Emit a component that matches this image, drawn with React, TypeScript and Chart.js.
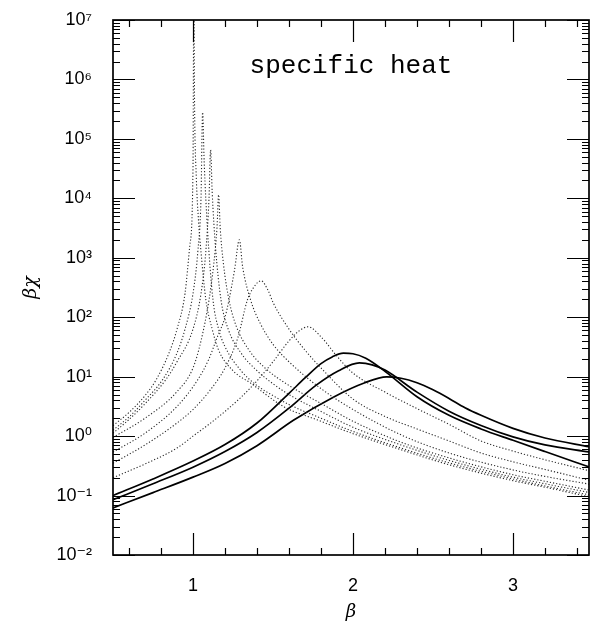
import React, { useEffect, useRef } from 'react';
import { Chart, registerables } from 'chart.js';

Chart.register(...registerables);

// axis ranges and labels
const xMin = 0.5;
const xMax = 3.475;
const yMin = 0.01;
const yMax = 1e7;
const xLabelTicks = [1, 2, 3];
const xAxisTitle = 'β';
const yAxisTitle = 'βχ';
const panelTitle = 'specific heat';

// solid curves: [beta, beta*chi]
const solid1: [number, number][] = [
  [0.5, 0.1], [0.75, 0.19], [1.0, 0.38], [1.2, 0.72], [1.4, 1.66], [1.6, 5.25], [1.7, 9.5],
  [1.8, 16.6], [1.87, 21.5], [1.94, 24.8], [2.0, 24.3], [2.08, 20.4], [2.2, 12.3], [2.4, 4.6],
  [2.6, 2.24], [2.8, 1.32], [3.0, 0.85], [3.2, 0.55], [3.48, 0.3],
];
const solid2: [number, number][] = [
  [0.5, 0.085], [0.75, 0.158], [1.0, 0.3], [1.2, 0.55], [1.4, 1.15], [1.6, 2.95], [1.77, 7.2],
  [1.91, 12.6], [2.04, 17], [2.12, 15.8], [2.2, 12.9], [2.4, 5.5], [2.6, 2.63], [2.8, 1.51],
  [3.0, 0.97], [3.2, 0.71], [3.48, 0.54],
];
const solid3: [number, number][] = [
  [0.5, 0.062], [0.75, 0.112], [1.0, 0.204], [1.2, 0.347], [1.4, 0.69], [1.63, 1.86],
  [1.88, 4.57], [2.07, 7.83], [2.21, 9.9], [2.3, 9.4], [2.4, 7.9], [2.5, 6.0], [2.6, 4.3],
  [2.7, 3.0], [2.8, 2.24], [3.0, 1.35], [3.2, 0.93], [3.48, 0.66],
];

// dotted curves
const dotted1: [number, number][] = [
  [0.5, 1.5], [0.6, 2.5], [0.7, 4.8], [0.77, 8.9], [0.85, 25], [0.9, 63], [0.95, 250],
  [0.98, 1600], [1.0, 32000], [1.005, 3e7], [1.01, 3.2e5], [1.02, 25000], [1.035, 4000],
  [1.05, 1260], [1.08, 200], [1.12, 63], [1.16, 28], [1.25, 12.6], [1.36, 7.8], [1.57, 3.1],
  [1.78, 1.86], [2.0, 1.1], [2.3, 0.59], [2.6, 0.33], [3.0, 0.178], [3.2, 0.138], [3.48, 0.095],
];
const dotted2: [number, number][] = [
  [0.5, 1.26], [0.6, 2.1], [0.7, 4.0], [0.81, 8.9], [0.9, 25], [0.95, 63], [1.0, 250],
  [1.03, 1260], [1.05, 10000], [1.06, 2.8e5], [1.07, 40000], [1.09, 3200], [1.125, 195],
  [1.16, 63], [1.2, 32], [1.3, 12.6], [1.4, 7.1], [1.5, 4.8], [1.6, 3.4], [1.8, 2.0],
  [2.0, 1.2], [2.3, 0.63], [2.6, 0.355], [3.0, 0.19], [3.2, 0.145], [3.48, 0.102],
];
const dotted3: [number, number][] = [
  [0.5, 1.12], [0.6, 1.9], [0.7, 3.5], [0.83, 8.9], [0.9, 17.8], [1.0, 63], [1.05, 250],
  [1.08, 1260], [1.1, 10000], [1.11, 65000], [1.12, 12600], [1.14, 1600], [1.175, 195],
  [1.22, 63], [1.3, 25], [1.4, 12.6], [1.5, 7.6], [1.6, 5.0], [1.8, 2.6], [2.0, 1.41],
  [2.3, 0.71], [2.6, 0.39], [3.0, 0.204], [3.2, 0.158], [3.48, 0.112],
];
const dotted4: [number, number][] = [
  [0.5, 0.95], [0.7, 2.0], [0.9, 5.6], [1.0, 14], [1.05, 40], [1.1, 195], [1.13, 800],
  [1.15, 3200], [1.16, 11500], [1.17, 3200], [1.19, 800], [1.225, 195], [1.27, 71],
  [1.35, 28], [1.45, 14], [1.6, 7.1], [1.8, 3.55], [2.0, 1.78], [2.3, 0.79], [2.6, 0.43],
  [3.0, 0.224], [3.2, 0.174], [3.48, 0.123],
];
const dotted5: [number, number][] = [
  [0.5, 0.54], [0.7, 1.12], [0.9, 3.16], [1.03, 8.9], [1.1, 20], [1.15, 45], [1.2, 100],
  [1.225, 195], [1.26, 630], [1.29, 2000], [1.31, 710], [1.36, 195], [1.42, 79], [1.5, 35],
  [1.6, 17.8], [1.8, 6.3], [2.0, 2.8], [2.3, 1.05], [2.6, 0.52], [3.0, 0.27], [3.2, 0.21],
  [3.48, 0.155],
];
const dotted6: [number, number][] = [
  [0.5, 0.35], [0.7, 0.71], [0.9, 1.66], [1.0, 2.8], [1.1, 5.6], [1.2, 14], [1.28, 45],
  [1.34, 195], [1.38, 320], [1.425, 410], [1.47, 280], [1.5, 178], [1.6, 63], [1.7, 28],
  [1.8, 14], [2.0, 4.2], [2.2, 2.14], [2.4, 1.32], [2.6, 0.83], [2.8, 0.52], [3.0, 0.37],
  [3.2, 0.275], [3.48, 0.18],
];
const dotted7: [number, number][] = [
  [0.5, 0.2], [0.7, 0.34], [0.9, 0.63], [1.0, 1.0], [1.1, 1.58], [1.2, 2.6], [1.3, 4.5],
  [1.4, 8.5], [1.5, 17.8], [1.6, 40], [1.66, 58], [1.72, 69], [1.8, 47], [1.9, 22],
  [2.0, 11.5], [2.2, 5.5], [2.4, 2.9], [2.6, 1.58], [2.8, 0.83], [3.0, 0.56], [3.2, 0.4],
  [3.48, 0.26],
];

const solidSeries = [solid1, solid2, solid3];
const dottedSeries = [dotted1, dotted2, dotted3, dotted4, dotted5, dotted6, dotted7];

const SUP: Record<string, string> = {
  '-': '⁻', '0': '⁰', '1': '¹', '2': '²', '3': '³', '4': '⁴', '5': '⁵', '6': '⁶', '7': '⁷', '8': '⁸', '9': '⁹',
};

const tickFont = '"Liberation Sans", "DejaVu Sans", sans-serif';

const frameTicks = {
  id: 'frameTicks',
  afterDraw(chart: any) {
    const { ctx, chartArea: a, scales } = chart;
    const xs = scales.x;
    const ys = scales.y;
    ctx.save();
    ctx.strokeStyle = '#000';
    ctx.lineWidth = 1.7;
    ctx.strokeRect(a.left, a.top, a.right - a.left, a.bottom - a.top);
    ctx.lineWidth = 1.2;
    ctx.beginPath();
    for (let i = 2; i <= 18; i++) {
      const v = i * 0.2;
      if (v < xMin - 1e-9 || v > xMax + 1e-9) continue;
      const px = Math.round(xs.getPixelForValue(v)) + 0.5;
      const major = Math.abs(v - Math.round(v)) < 1e-6;
      const len = major ? 22 : 7;
      ctx.moveTo(px, a.bottom);
      ctx.lineTo(px, a.bottom - len);
      ctx.moveTo(px, a.top);
      ctx.lineTo(px, a.top + len);
    }
    for (let e = -2; e <= 7; e++) {
      for (let k = 1; k <= 9; k++) {
        const v = k * Math.pow(10, e);
        if (v > yMax * 1.0001) continue;
        const py = Math.round(ys.getPixelForValue(v)) + 0.5;
        const len = k === 1 ? 22 : 7;
        ctx.moveTo(a.left, py);
        ctx.lineTo(a.left + len, py);
        ctx.moveTo(a.right, py);
        ctx.lineTo(a.right - len, py);
      }
    }
    ctx.stroke();
    ctx.fillStyle = '#000';
    ctx.font = '26px "Liberation Mono", "DejaVu Sans Mono", monospace';
    ctx.textAlign = 'center';
    ctx.textBaseline = 'alphabetic';
    ctx.fillText(panelTitle, (a.left + a.right) / 2, a.top + 53);
    ctx.restore();
  },
};

export default function App() {
  const canvasRef = useRef<HTMLCanvasElement | null>(null);

  useEffect(() => {
    const canvas = canvasRef.current;
    if (!canvas) return;
    const datasets: any[] = [];
    dottedSeries.forEach((s, i) => {
      datasets.push({
        label: `dotted ${i + 1}`,
        data: s.map(([x, y]) => ({ x, y })),
        borderColor: '#2a2a2a',
        borderWidth: 1.1,
        borderDash: [1.2, 2],
        pointRadius: 0,
        fill: false,
        cubicInterpolationMode: 'monotone',
      });
    });
    solidSeries.forEach((s, i) => {
      datasets.push({
        label: `solid ${i + 1}`,
        data: s.map(([x, y]) => ({ x, y })),
        borderColor: '#000',
        borderWidth: 1.7,
        pointRadius: 0,
        fill: false,
        cubicInterpolationMode: 'monotone',
      });
    });

    const chart = new Chart(canvas, {
      type: 'line',
      data: { datasets },
      options: {
        responsive: false,
        animation: false,
        devicePixelRatio: 1,
        events: [],
        layout: { padding: { top: 20, right: 1, left: 0, bottom: 0 } },
        plugins: { legend: { display: false }, tooltip: { enabled: false } },
        scales: {
          x: {
            type: 'linear',
            min: xMin,
            max: xMax,
            grid: { display: false, drawTicks: false },
            border: { display: false },
            ticks: {
              stepSize: 1,
              includeBounds: false,
              autoSkip: false,
              maxRotation: 0,
              padding: 20,
              color: '#000',
              font: { family: tickFont, size: 18 },
              callback: (v: any) => (xLabelTicks.includes(Number(v)) ? String(v) : ''),
            },
            title: {
              display: true,
              text: xAxisTitle,
              color: '#000',
              font: { family: '"DejaVu Serif", serif', style: 'italic', size: 18 },
              padding: { top: 0, bottom: 0 },
            },
            afterFit: (s: any) => {
              s.height = 68;
              s.paddingLeft = 0;
              s.paddingRight = 0;
            },
          },
          y: {
            type: 'logarithmic',
            min: yMin,
            max: yMax,
            grid: { display: false, drawTicks: false },
            border: { display: false },
            ticks: {
              autoSkip: false,
              padding: 21,
              color: '#000',
              font: { family: tickFont, size: 18 },
              callback: (v: any) => {
                const lg = Math.log10(Number(v));
                const e = Math.round(lg);
                if (Math.abs(lg - e) > 1e-6) return '';
                return '10' + String(e).split('').map((c) => SUP[c]).join('');
              },
            },
            title: {
              display: true,
              text: yAxisTitle,
              color: '#000',
              font: { family: '"DejaVu Serif", serif', style: 'italic', size: 19 },
              padding: { top: 20, bottom: 0 },
            },
            afterFit: (s: any) => {
              s.width = 113;
              s.paddingTop = 0;
              s.paddingBottom = 0;
            },
          },
        },
      },
      plugins: [frameTicks],
    } as any);

    return () => {
      chart.destroy();
    };
  }, []);

  return (
    <div style={{ position: 'fixed', left: 0, top: 0, width: 590, height: 623, background: '#fff' }}>
      <canvas ref={canvasRef} width={590} height={623} style={{ display: 'block' }} />
    </div>
  );
}
